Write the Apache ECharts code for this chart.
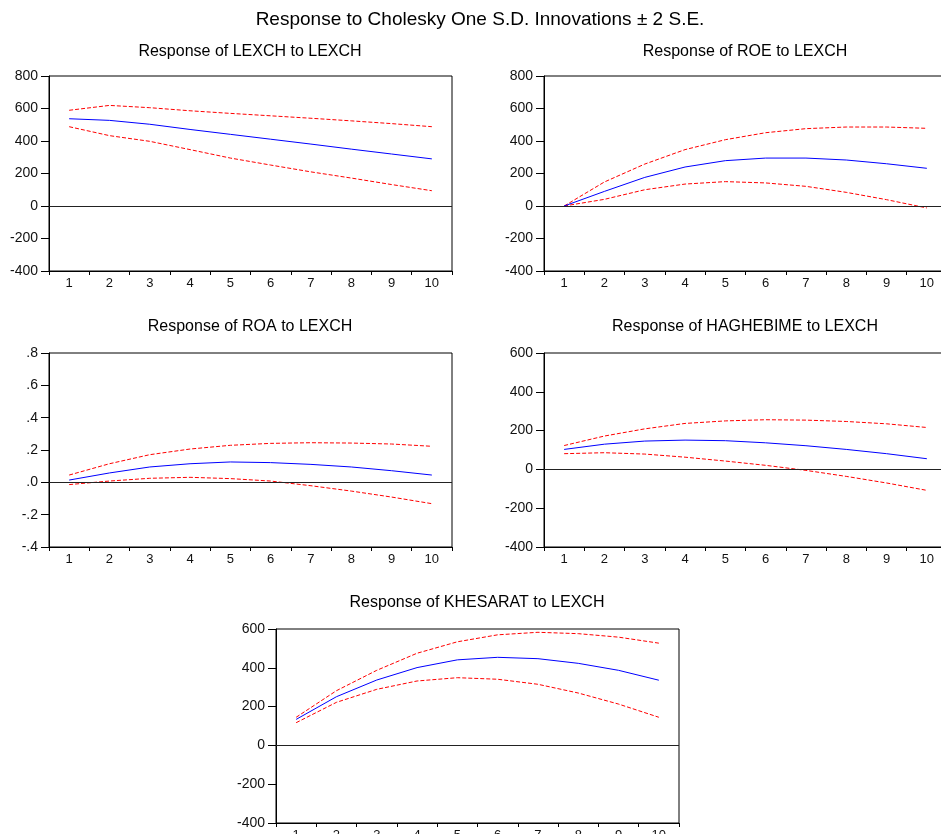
<!DOCTYPE html>
<html>
<head>
<meta charset="utf-8">
<script src="https://cdn.jsdelivr.net/npm/echarts@6/dist/echarts.min.js"></script>
<style>
html,body{margin:0;padding:0;background:#fff;}
#chart{width:941px;height:834px;}
</style>
</head>
<body>
<div id="chart"></div>
<script>
const periods = ['1','2','3','4','5','6','7','8','9','10'];

const lexchResp  = [537, 527, 503, 471, 441, 411, 381, 350, 320, 290];
const lexchUpper = [589, 619, 605, 586, 570, 555, 540, 524, 507, 488];
const lexchLower = [488, 433, 398, 347, 295, 252, 210, 172, 132, 94];

const roeResp  = [0, 90, 176, 240, 279, 295, 295, 283, 260, 232];
const roeUpper = [0, 148, 258, 347, 408, 451, 476, 486, 486, 478];
const roeLower = [0, 41, 100, 135, 150, 142, 121, 84, 39, -12];

const roaResp  = [0.014, 0.058, 0.095, 0.115, 0.126, 0.122, 0.111, 0.095, 0.072, 0.045];
const roaUpper = [0.045, 0.115, 0.171, 0.206, 0.229, 0.241, 0.245, 0.243, 0.237, 0.223];
const roaLower = [-0.014, 0.008, 0.025, 0.031, 0.023, 0.008, -0.021, -0.054, -0.091, -0.132];

const hagResp  = [103, 130, 146, 151, 148, 137, 122, 103, 81, 55];
const hagUpper = [123, 172, 209, 237, 250, 256, 254, 247, 235, 216];
const hagLower = [81, 86, 79, 63, 43, 21, -5, -36, -70, -108];

const khsResp  = [134, 251, 337, 401, 441, 454, 447, 423, 387, 336];
const khsUpper = [145, 282, 387, 475, 534, 570, 583, 576, 558, 527];
const khsLower = [117, 222, 289, 332, 349, 341, 315, 270, 213, 145];

const mainTitle = 'Response to Cholesky One S.D. Innovations \u00B1 2 S.E.';
const panelTitles = [
  'Response of LEXCH to LEXCH',
  'Response of ROE to LEXCH',
  'Response of ROA to LEXCH',
  'Response of HAGHEBIME to LEXCH',
  'Response of KHESARAT to LEXCH'
];

const panels = [
  {resp: lexchResp, up: lexchUpper, lo: lexchLower, min: -400, max: 800, interval: 200, fmt: null},
  {resp: roeResp, up: roeUpper, lo: roeLower, min: -400, max: 800, interval: 200, fmt: null},
  {resp: roaResp, up: roaUpper, lo: roaLower, min: -0.4, max: 0.8, interval: 0.2, fmt: 'dec'},
  {resp: hagResp, up: hagUpper, lo: hagLower, min: -400, max: 600, interval: 200, fmt: null},
  {resp: khsResp, up: khsUpper, lo: khsLower, min: -400, max: 600, interval: 200, fmt: null}
];

// layout
const grids = [
  {left: 49,  top: 76,  width: 403, height: 195},
  {left: 544, top: 76,  width: 403, height: 195},
  {left: 49,  top: 353, width: 403, height: 194},
  {left: 544, top: 353, width: 403, height: 194},
  {left: 276, top: 629, width: 403, height: 194}
];
const titlePos = [[250, 52], [745, 52], [250, 327], [745, 327], [477, 603]];

const FONT = 'Liberation Sans, Arial, Helvetica, sans-serif';

function decFmt(v) {
  const r = Math.round(v * 10) / 10;
  if (r === 0) return '.0';
  const s = Math.abs(r).toFixed(1).replace(/^0/, '');
  return (r < 0 ? '-' : '') + s;
}

const option = {
  animation: false,
  backgroundColor: '#fff',
  grid: grids.map(g => Object.assign({show: true, borderColor: '#000', borderWidth: 1, backgroundColor: 'transparent', containLabel: false, outerBoundsMode: 'none'}, g)),
  xAxis: panels.map((p, i) => ({
    type: 'category',
    gridIndex: i,
    data: periods,
    boundaryGap: true,
    axisLine: {onZero: false, lineStyle: {color: '#000', width: 1}},
    axisTick: {show: true, length: 4, inside: false, lineStyle: {color: '#000'}},
    axisLabel: {color: '#111', fontSize: 13, fontFamily: FONT, margin: 6, interval: 0},
    splitLine: {show: false}
  })),
  yAxis: panels.map((p, i) => ({
    type: 'value',
    gridIndex: i,
    min: p.min,
    max: p.max,
    interval: p.interval,
    axisLine: {show: true, lineStyle: {color: '#000', width: 1}},
    axisTick: {show: true, length: 8, lineStyle: {color: '#000'}},
    axisLabel: {
      color: '#111', fontSize: 14, fontFamily: FONT, margin: 11,
      formatter: p.fmt === 'dec' ? decFmt : (v => String(Math.round(v)))
    },
    splitLine: {show: false}
  })),
  graphic: [
    {type: 'text', x: 480, y: 20, style: {text: mainTitle, font: '19px ' + FONT, fill: '#000', textAlign: 'center', textVerticalAlign: 'middle'}}
  ].concat(panelTitles.map((t, i) => ({
    type: 'text', x: titlePos[i][0], y: titlePos[i][1],
    style: {text: t, font: '16px ' + FONT, fill: '#000', textAlign: 'center', textVerticalAlign: 'middle'}
  }))),
  series: []
};

panels.forEach((p, i) => {
  option.series.push({
    type: 'line', xAxisIndex: i, yAxisIndex: i, data: p.resp,
    symbol: 'none', smooth: false,
    lineStyle: {color: '#0000ff', width: 1},
    markLine: {
      silent: true, symbol: 'none', label: {show: false},
      lineStyle: {color: '#222', type: 'solid', width: 1},
      data: [{yAxis: 0}]
    },
    z: 3
  });
  option.series.push({
    type: 'line', xAxisIndex: i, yAxisIndex: i, data: p.up,
    symbol: 'none',
    lineStyle: {color: '#ff0000', width: 1, type: [4, 2]},
    z: 2
  });
  option.series.push({
    type: 'line', xAxisIndex: i, yAxisIndex: i, data: p.lo,
    symbol: 'none',
    lineStyle: {color: '#ff0000', width: 1, type: [4, 2]},
    z: 2
  });
});

const chart = echarts.init(document.getElementById('chart'), null, {renderer: 'canvas'});
chart.setOption(option);
</script>
</body>
</html>
